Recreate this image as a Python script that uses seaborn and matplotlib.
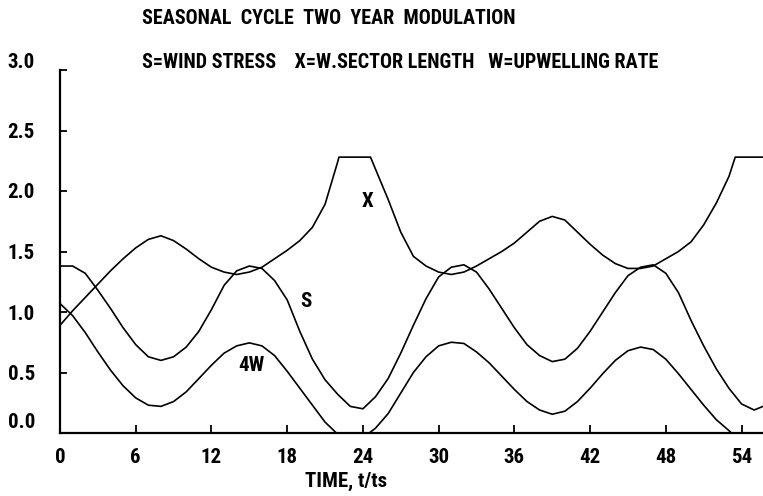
import numpy as np
import pandas as pd
import matplotlib
matplotlib.use("Agg")
import matplotlib.pyplot as plt
import matplotlib.transforms as mtransforms
from matplotlib import font_manager
import seaborn as sns

# Wind stress S
s_time = list(range(0, 56)) + [55.7]
s_vals = [1.38, 1.38, 1.32, 1.18, 1.03, 0.87, 0.73, 0.63, 0.60, 0.63,
          0.71, 0.84, 1.02, 1.22, 1.34, 1.38, 1.36, 1.26, 1.10, 0.84,
          0.61, 0.44, 0.32, 0.22, 0.20, 0.30, 0.45, 0.66, 0.89, 1.11,
          1.29, 1.37, 1.39, 1.33, 1.19, 1.03, 0.87, 0.73, 0.64, 0.59,
          0.61, 0.70, 0.84, 1.00, 1.16, 1.30, 1.37, 1.39, 1.32, 1.16,
          0.93, 0.72, 0.53, 0.37, 0.24, 0.19, 0.22]

# Upwelling rate, plotted as 4W
w_time = list(range(0, 22)) + [21.9, 24.5] + list(range(25, 54)) + [53.2, 55.7]
w_vals = [1.07, 0.97, 0.83, 0.67, 0.52, 0.39, 0.29, 0.23, 0.22, 0.26,
          0.34, 0.45, 0.56, 0.66, 0.72, 0.745, 0.72, 0.64, 0.51, 0.37,
          0.23, 0.09, 0.0, 0.0,
          0.04, 0.16, 0.33, 0.50, 0.63, 0.72, 0.75, 0.74, 0.67, 0.58,
          0.47, 0.36, 0.26, 0.19, 0.155, 0.18, 0.26, 0.37, 0.49, 0.60,
          0.68, 0.71, 0.69, 0.61, 0.49, 0.36, 0.23, 0.11, 0.02,
          0.0, 0.0]

# Western sector length X
x_time = list(range(0, 23)) + [22.1, 24.6] + list(range(25, 54)) + [53.5, 55.7]
x_vals = [0.89, 1.01, 1.12, 1.23, 1.34, 1.44, 1.53, 1.60, 1.63, 1.59,
          1.52, 1.44, 1.37, 1.33, 1.31, 1.33, 1.37, 1.44, 1.51, 1.59,
          1.70, 1.89, 2.24, 2.28, 2.28,
          2.18, 1.93, 1.66, 1.46, 1.38, 1.33, 1.31, 1.33, 1.38, 1.44,
          1.50, 1.57, 1.66, 1.75, 1.79, 1.76, 1.66, 1.56, 1.47, 1.40,
          1.36, 1.36, 1.38, 1.44, 1.50, 1.58, 1.72, 1.90, 2.12,
          2.28, 2.28]

x_ticks = [0, 6, 12, 18, 24, 30, 36, 42, 48, 54]
y_ticks = [0.0, 0.5, 1.0, 1.5, 2.0, 2.5, 3.0]
y_tick_labels = ["0.0", "0.5", "1.0", "1.5", "2.0", "2.5", "3.0"]

curve_labels = ["S", "4W", "X"]
curve_label_pos = [(19.5, 1.09), (15.2, 0.56), (24.4, 1.91)]

title_text = "SEASONAL  CYCLE  TWO  YEAR  MODULATION"
key_text = "S=WIND STRESS    X=W.SECTOR LENGTH   W=UPWELLING RATE"
xlabel_text = "TIME, t/ts"

sns.set_theme(style="white")

# Narrow, tall lettering: use a condensed face if one is installed
NARROW_NAMES = ["Liberation Sans Narrow", "Roboto Condensed", "Open Sans Condensed",
                "Noto Sans Condensed", "DejaVu Sans Condensed", "Arial Narrow"]
fonts = font_manager.fontManager.ttflist
installed = {f.name for f in fonts}
narrow = [n for n in NARROW_NAMES if n in installed]
if not narrow:
    narrow = sorted({f.name for f in fonts
                     if str(f.stretch) in ("condensed", "semi-condensed",
                                           "extra-condensed", "75", "87.5")})
FAMILY = narrow[:1] + ["DejaVu Sans"]
plt.rcParams["font.family"] = FAMILY
FONT = dict(family=FAMILY, fontstretch="condensed", fontweight="bold",
            color="black")

frames = [
    pd.DataFrame({"t": s_time, "v": s_vals, "curve": "S"}),
    pd.DataFrame({"t": w_time, "v": w_vals, "curve": "W"}),
    pd.DataFrame({"t": x_time, "v": x_vals, "curve": "X"}),
]
data = pd.concat(frames, ignore_index=True)

W_PX, H_PX = 763, 496
fig = plt.figure(figsize=(W_PX / 100, H_PX / 100), dpi=100)
ax = fig.add_axes([60 / W_PX, 63 / H_PX, 703 / W_PX, 363 / H_PX])

sns.lineplot(data=data, x="t", y="v", hue="curve", units="curve",
             estimator=None, sort=False, palette=["black"] * 3,
             linewidth=1.2, legend=False, ax=ax)

ax.set_xlim(0, 55.7)
ax.set_ylim(0, 3.0)
ax.set_xticks(x_ticks)
ax.set_xticklabels([str(v) for v in x_ticks])
ax.set_yticks(y_ticks)
ax.set_yticklabels(y_tick_labels)
ax.set_xlabel("")
ax.set_ylabel("")

for side in ("top", "right"):
    ax.spines[side].set_visible(False)
for side in ("left", "bottom"):
    ax.spines[side].set_color("black")
    ax.spines[side].set_linewidth(1.6)

ax.tick_params(axis="x", bottom=True, direction="in", length=6, width=1.3,
               pad=11, colors="black", labelsize=15)
ax.tick_params(axis="y", left=True, direction="in", length=5, width=1.3,
               pad=18, colors="black", labelsize=15)
for lab in ax.get_xticklabels() + ax.get_yticklabels():
    lab.set_family(FAMILY)
    lab.set_fontstretch("condensed")
    lab.set_fontweight("bold")

# the end labels of the value axis sit a little above their tick marks
ylabs = ax.get_yticklabels()
for lab, dy in ((ylabs[0], 12), (ylabs[-1], 9)):
    lab.set_transform(lab.get_transform() +
                      mtransforms.ScaledTranslation(0, dy / 100, fig.dpi_scale_trans))

for text, (tx, ty) in zip(curve_labels, curve_label_pos):
    ax.text(tx, ty, text, ha="center", va="center", fontsize=15, **FONT)

renderer = fig.canvas.get_renderer()

# heading: size chosen so the line spans from x=142 px to x=517 px
title = fig.text(142 / W_PX, 1 - 18 / H_PX, title_text, ha="left",
                 va="center", fontsize=12, **FONT)
w = title.get_window_extent(renderer).width
text_size = 12 * 375 / w
title.set_fontsize(text_size)

fig.text(142 / W_PX, 1 - 62 / H_PX, key_text, ha="left", va="center",
         fontsize=text_size, **FONT)

fig.text(346 / W_PX, 1 - 481 / H_PX, xlabel_text, ha="center",
         va="center", fontsize=15, **FONT)

fig.savefig("out.png", dpi=100, facecolor="white")
